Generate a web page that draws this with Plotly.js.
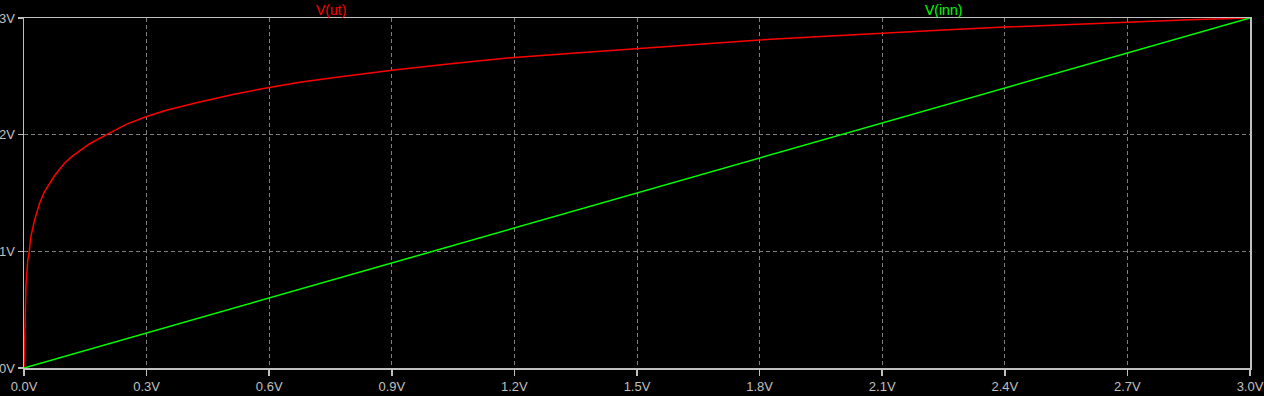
<!DOCTYPE html>
<html>
<head>
<meta charset="utf-8">
<script src="https://cdn.plot.ly/plotly-3.0.1.min.js"></script>
<style>
html,body{margin:0;padding:0;background:#000;}
#chart{width:1264px;height:396px;}
</style>
</head>
<body>
<div id="chart"></div>
<script>
// Sweep input voltage (V)
const vinSweep = [0, 0.001, 0.0025, 0.005, 0.009, 0.013, 0.0164, 0.026, 0.038, 0.05, 0.075, 0.1, 0.12, 0.14, 0.16, 0.18, 0.214, 0.25, 0.3, 0.348, 0.43, 0.511, 0.6, 0.675, 0.756, 0.838, 0.9, 1.05, 1.2, 1.35, 1.5, 1.65, 1.8, 1.95, 2.1, 2.25, 2.4, 2.55, 2.7, 2.85, 3.0];
// V(ut) output values (V)
const vUt = [0, 0.16, 0.5, 0.72, 0.92, 1.0, 1.12, 1.27, 1.41, 1.51, 1.65, 1.76, 1.82, 1.87, 1.92, 1.96, 2.025, 2.088, 2.155, 2.21, 2.28, 2.345, 2.405, 2.45, 2.488, 2.524, 2.553, 2.61, 2.662, 2.70, 2.739, 2.775, 2.812, 2.842, 2.871, 2.897, 2.922, 2.945, 2.967, 2.985, 3.0];
// V(inn) input values
const vinnX = [0, 3.0];
const vinnY = [0, 3.0];
const seriesNames = ["V(ut)", "V(inn)"];
const seriesColors = ["#ff0000", "#00ff00"];
// Tick labels
const xTickVals = [0, 0.3, 0.6, 0.9, 1.2, 1.5, 1.8, 2.1, 2.4, 2.7, 3.0];
const xTickText = ["0.0V", "0.3V", "0.6V", "0.9V", "1.2V", "1.5V", "1.8V", "2.1V", "2.4V", "2.7V", "3.0V"];
const yTickVals = [0, 1, 2, 3];
const yTickText = ["0V", "1V", "2V", "3V"];

const font = "Liberation Sans, Arial, sans-serif";
const traces = [
  {x: vinSweep, y: vUt, type: "scatter", mode: "lines", name: seriesNames[0],
   line: {color: seriesColors[0], width: 1.5}},
  {x: vinnX, y: vinnY, type: "scatter", mode: "lines", name: seriesNames[1],
   line: {color: seriesColors[1], width: 1.5}}
];
const axisCommon = {
  showline: true, mirror: true, linecolor: "#c0c0c0", linewidth: 1.5,
  showgrid: true, gridcolor: "#808080", gridwidth: 1, griddash: "4px,3px",
  zeroline: false, ticks: "outside", tickcolor: "#c0c0c0", tickwidth: 1.5,
  tickmode: "array", fixedrange: true
};
const layout = {
  width: 1264, height: 396,
  paper_bgcolor: "#000", plot_bgcolor: "#000",
  margin: {l: 24, r: 14, t: 18, b: 28},
  showlegend: false,
  xaxis: Object.assign({}, axisCommon, {range: [0, 3], tickvals: xTickVals, ticktext: xTickText, ticklen: 6,
    tickfont: {family: font, size: 13, color: "#c0c0c0"}}),
  yaxis: Object.assign({}, axisCommon, {range: [0, 3], tickvals: yTickVals, ticktext: yTickText, ticklen: 5,
    tickfont: {family: font, size: 13, color: "#c0c0c0"}}),
  annotations: [
    {xref: "paper", yref: "paper", x: 0.25, y: 1, yanchor: "bottom", xanchor: "center", yshift: -2,
     text: seriesNames[0], showarrow: false, font: {family: font, size: 14, color: seriesColors[0]}},
    {xref: "paper", yref: "paper", x: 0.75, y: 1, yanchor: "bottom", xanchor: "center", yshift: -2,
     text: seriesNames[1], showarrow: false, font: {family: font, size: 14, color: seriesColors[1]}}
  ]
};
Plotly.newPlot("chart", traces, layout, {displayModeBar: false, staticPlot: true});
</script>
</body>
</html>
